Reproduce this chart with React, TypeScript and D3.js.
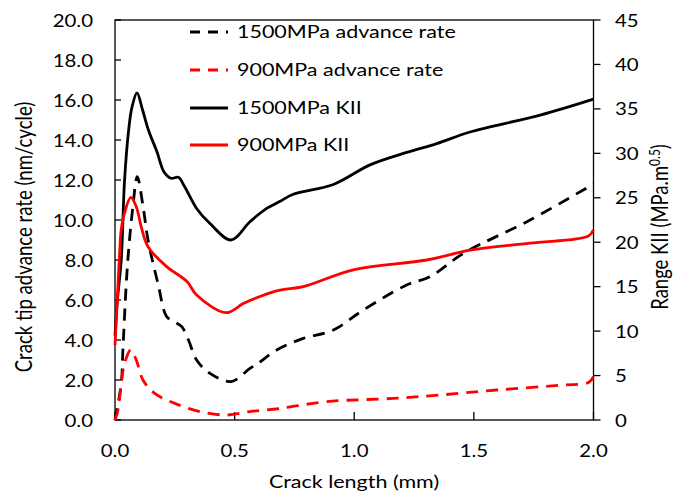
import React from "react";
import * as d3 from "d3";

// ---- data ----
const xTicks = [0, 0.5, 1.0, 1.5, 2.0];
const leftTicks = [0, 2, 4, 6, 8, 10, 12, 14, 16, 18, 20];
const rightTicks = [0, 5, 10, 15, 20, 25, 30, 35, 40, 45];

// 1500MPa advance rate (left axis, nm/cycle)
const adv1500X = [0, 0.026, 0.033, 0.047, 0.057, 0.075, 0.093, 0.117, 0.138, 0.18, 0.216, 0.25, 0.279, 0.307, 0.341, 0.397, 0.485, 0.564, 0.606, 0.676, 0.787, 0.913, 1.038, 1.219, 1.317, 1.456, 1.735, 2.0];
const adv1500Y = [0, 1.8, 3.5, 6.8, 8.5, 10.7, 12.17, 10.7, 9.0, 6.8, 5.17, 4.9, 4.67, 4.0, 3.0, 2.33, 1.92, 2.58, 2.9, 3.5, 4.08, 4.5, 5.5, 6.75, 7.17, 8.33, 10.0, 11.8];

// 900MPa advance rate (left axis)
const adv900X = [0, 0.0125, 0.026, 0.04, 0.066, 0.089, 0.117, 0.166, 0.25, 0.355, 0.467, 0.564, 0.69, 0.885, 1.163, 1.359, 1.596, 1.874, 1.979, 2.0];
const adv900Y = [0, 0.5, 1.83, 2.83, 3.5, 3.0, 2.0, 1.33, 0.83, 0.42, 0.25, 0.42, 0.58, 0.92, 1.08, 1.25, 1.5, 1.75, 1.87, 2.17];

// 1500MPa KII (right axis, MPa.m^0.5)
const kii1500X = [0, 0.01, 0.026, 0.04, 0.057, 0.071, 0.092, 0.115, 0.14, 0.175, 0.205, 0.234, 0.265, 0.29, 0.341, 0.397, 0.485, 0.564, 0.634, 0.69, 0.745, 0.913, 1.066, 1.219, 1.345, 1.484, 1.777, 2.0];
const kii1500Y = [9.5, 13.5, 18, 27, 32.6, 35.2, 36.8, 34.9, 32.6, 30.2, 27.9, 27.2, 27.3, 26.3, 23.8, 22.1, 20.25, 22.3, 23.8, 24.6, 25.4, 26.5, 28.7, 30.1, 31.1, 32.4, 34.3, 36.1];

// 900MPa KII (right axis)
const kii900X = [0, 0.006, 0.02, 0.026, 0.04, 0.066, 0.089, 0.11, 0.138, 0.216, 0.3, 0.341, 0.464, 0.536, 0.606, 0.69, 0.787, 0.996, 1.303, 1.484, 1.735, 1.979, 2.0];
const kii900Y = [8.44, 11.6, 19.1, 21.4, 23.3, 25.05, 24.0, 21.7, 19.5, 17.25, 15.6, 14.06, 12.07, 13.1, 13.9, 14.6, 15.0, 16.9, 18.0, 19.1, 19.9, 20.7, 21.4];

const legendLabels = ["1500MPa advance rate", "900MPa advance rate", "1500MPa KII", "900MPa KII"];

// ---- layout ----
const W = 673, H = 494;
const L = 115, R = 593.5, T = 20, B = 420;
const FONT = "Lato, 'Open Sans', sans-serif";
const SX = 1.2;

const x = d3.scaleLinear().domain([0, 2]).range([L, R]);
const yL = d3.scaleLinear().domain([0, 20]).range([B, T]);
const yR = d3.scaleLinear().domain([0, 45]).range([B, T]);

const mk = (xs: number[], ys: number[], sy: d3.ScaleLinear<number, number>) =>
  d3
    .line<number>()
    .x((_, i) => x(xs[i]))
    .y((_, i) => sy(ys[i]))
    .curve(d3.curveCatmullRom.alpha(0.5))(xs) || "";

const Txt = ({ x: tx, y: ty, anchor = "start", rotate = 0, size = 17, children }: any) => (
  <text
    transform={`translate(${tx},${ty}) scale(${SX},1) rotate(${rotate})`}
    textAnchor={anchor}
    fontFamily={FONT}
    fontSize={size}
    fill="#000"
  >
    {children}
  </text>
);

export default function App() {
  const series = [
    { d: mk(adv1500X, adv1500Y, yL), color: "#000", dash: "12,8" },
    { d: mk(adv900X, adv900Y, yL), color: "#ff0000", dash: "12,8" },
    { d: mk(kii1500X, kii1500Y, yR), color: "#000", dash: "" },
    { d: mk(kii900X, kii900Y, yR), color: "#ff0000", dash: "" },
  ];
  const legendRows = [32, 70, 108, 145];
  return (
    <svg width={W} height={H} style={{ position: "absolute", left: 0, top: 0, background: "#fff" }}>
      <rect x={0} y={0} width={W} height={H} fill="#fff" />
      {/* frame */}
      <rect x={L} y={T} width={R - L} height={B - T} fill="none" stroke="#000" strokeWidth={1.3} />
      {/* left ticks (inside) */}
      {leftTicks.map((t) => (
        <g key={"l" + t}>
          <line x1={L} x2={L + 6} y1={yL(t)} y2={yL(t)} stroke="#000" strokeWidth={1.3} />
          <Txt x={93} y={yL(t) + 6.5} anchor="end">{t.toFixed(1)}</Txt>
        </g>
      ))}
      {/* right ticks (outside) */}
      {rightTicks.map((t) => (
        <g key={"r" + t}>
          <line x1={R} x2={R + 7} y1={yR(t)} y2={yR(t)} stroke="#000" strokeWidth={1.3} />
          <Txt x={615} y={yR(t) + 6.5} anchor="start">{String(t)}</Txt>
        </g>
      ))}
      {/* bottom ticks (inside) */}
      {xTicks.map((t) => (
        <g key={"b" + t}>
          <line x1={x(t)} x2={x(t)} y1={B} y2={B - 8} stroke="#000" strokeWidth={1.3} />
          <Txt x={x(t)} y={457} anchor="middle">{t.toFixed(1)}</Txt>
        </g>
      ))}
      {/* series */}
      {series.map((s, i) => (
        <path key={i} d={s.d} fill="none" stroke={s.color} strokeWidth={2.8} strokeDasharray={s.dash || undefined} strokeLinejoin="round" />
      ))}
      {/* legend */}
      {legendLabels.map((lab, i) => (
        <g key={lab}>
          <line x1={190} x2={228} y1={legendRows[i]} y2={legendRows[i]} stroke={series[i].color} strokeWidth={2.8} strokeDasharray={series[i].dash ? "10,8" : undefined} />
          <Txt x={237} y={legendRows[i] + 6} size={17.9}>{lab}</Txt>
        </g>
      ))}
      {/* axis titles */}
      <Txt x={354} y={488} anchor="middle" size={17.9}>Crack length (mm)</Txt>
      <Txt x={32} y={237} anchor="middle" rotate={-90} size={18.6}>Crack tip advance rate (nm/cycle)</Txt>
      <Txt x={668} y={227} anchor="middle" rotate={-90} size={18.5}>
        Range KII (MPa.m<tspan fontSize={12} dy={-7}>0.5</tspan><tspan dy={7}>)</tspan>
      </Txt>
    </svg>
  );
}
